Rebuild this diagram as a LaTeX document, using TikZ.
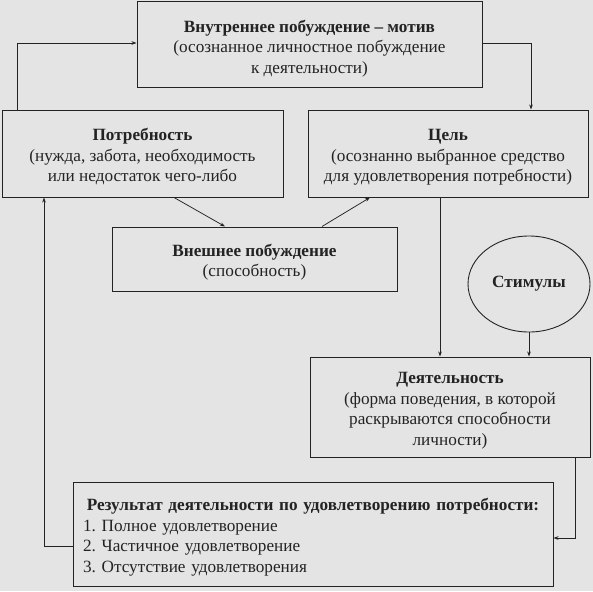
\documentclass[tikz,border=0pt]{standalone}
\usepackage{fontspec}
\setmainfont{Liberation Serif}
\usetikzlibrary{arrows.meta,shapes.geometric}
\definecolor{paper}{RGB}{228,228,228}
\definecolor{ink}{RGB}{35,35,35}
\newcommand{\TopStrut}{\rule{0pt}{19pt}}
\tikzset{
  box/.style={draw=ink, line width=1pt, fill=paper, rectangle, inner sep=0pt, align=center, text=ink},
  oval/.style={draw=ink, line width=0.9pt, fill=paper, ellipse, inner sep=0pt, text=ink},
  arr/.style={draw=ink, line width=0.75pt, -{Stealth[length=5pt,width=3.6pt]}},
}
\begin{document}
\begin{tikzpicture}[x=1pt,y=-1pt, font=\fontsize{17.2}{20.5}\selectfont]
\fill[paper] (0,0) rectangle (593,591);
\useasboundingbox (0,0) rectangle (593,591);

\node[box, minimum width=345pt, minimum height=86pt] (motive) at (309.5,45)
  {\TopStrut\textbf{Внутреннее побуждение -- мотив}\\(осознанное личностное побуждение\\к деятельности)};
\node[box, minimum width=281pt, minimum height=87pt] (potr) at (142.5,153.5)
  {\TopStrut\textbf{Потребность}\\(нужда, забота, необходимость\\или недостаток чего-либо};
\node[box, minimum width=280pt, minimum height=87pt] (cel) at (448,153.5)
  {\TopStrut\textbf{Цель}\\(осознанно выбранное средство\\для удовлетворения потребности)};
\node[box, minimum width=285pt, minimum height=64pt] (vnesh) at (254.5,259)
  {\TopStrut\textbf{Внешнее побуждение}\\(способность)};
\node[oval, minimum width=122pt, minimum height=96pt] (stim) at (529,284)
  {\textbf{Стимулы}};
\node[box, minimum width=280pt, minimum height=100pt] (deyat) at (450,407)
  {\TopStrut\textbf{Деятельность}\\(форма поведения, в которой\\раскрываются способности\\личности)};
\node[box, minimum width=480pt, minimum height=104pt, inner xsep=10pt, text width=460pt, align=left] (result) at (313,534)
  {\TopStrut\makebox[\linewidth][c]{\textbf{Результат деятельности по удовлетворению потребности:}}\\
   1.\ Полное удовлетворение\\
   2.\ Частичное удовлетворение\\
   3.\ Отсутствие удовлетворения};

\draw[arr] ([xshift=16pt]potr.north west) |- ([yshift=2pt]motive.west);
\draw[arr] ([yshift=2pt]motive.east) -| ([xshift=83pt]cel.north);
\draw[arr] ([xshift=31.5pt]potr.south) -- ([xshift=-29.5pt]vnesh.north);
\draw[arr] ([xshift=67.5pt]vnesh.north) -- ([xshift=-78pt]cel.south);
\draw[arr] ([xshift=-8pt]cel.south) -- ([xshift=-8pt]cel.south |- deyat.north);
\draw[arr] (stim.south) -- (stim.south |- deyat.north);
\draw[arr] ([xshift=125pt]deyat.south) |- ([yshift=-4pt]result.east);
\draw[arr] ([yshift=-12pt]result.west) -| ([xshift=-98.5pt]potr.south);
\end{tikzpicture}
\end{document}
